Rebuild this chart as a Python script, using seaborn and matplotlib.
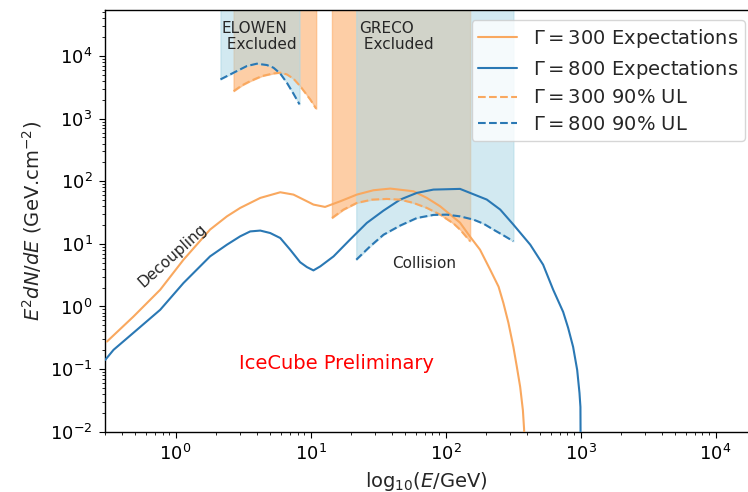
import matplotlib
matplotlib.use("Agg")
import matplotlib.pyplot as plt
from matplotlib.lines import Line2D
import seaborn as sns
import pandas as pd

# --- Expected neutrino spectra (E in GeV, E^2 dN/dE in GeV cm^-2) ---
e_g300 = [0.310, 0.488, 0.769, 1.144, 1.80, 2.40, 3.01, 4.24, 5.96, 7.47, 8.37,
          9.93, 10.5, 12.8, 16.6, 22.0, 29.2, 38.9, 57.8, 72.7, 91.2, 128,
          152, 180, 214, 247, 268, 292, 318, 337, 357, 374, 382, 386]
f_g300 = [0.275, 0.692, 1.85, 5.58, 16.9, 27.5, 37.5, 54.2, 66.7, 61.2, 54.2,
          45.1, 42.4, 38.9, 47.9, 61.2, 71.8, 76.4, 69.2, 54.2, 39.8, 21.8,
          13.0, 8.07, 3.87, 2.07, 1.14, 0.55, 0.226, 0.11, 0.052, 0.022, 0.0107, 0.005]

e_g800 = [0.301, 0.347, 0.517, 0.769, 1.144, 1.80, 2.40, 3.01, 3.57, 4.24, 5.02,
          5.96, 7.06, 8.37, 9.39, 10.5, 11.8, 14.8, 19.6, 26.1, 34.7, 46.1,
          61.3, 81.3, 128, 202, 254, 318, 424, 528, 627, 743, 809, 881, 944,
          982, 998, 1000, 1000]
f_g800 = [0.140, 0.203, 0.424, 0.885, 2.37, 6.31, 9.70, 13.2, 15.8, 16.3, 14.9,
          12.4, 8.07, 5.09, 4.26, 3.77, 4.37, 6.31, 11.7, 21.6, 34.0, 50.9,
          65.2, 73.6, 75.5, 51, 35.3, 20.3, 9.7, 4.65, 1.85, 0.82, 0.456, 0.226,
          0.097, 0.0416, 0.0248, 0.0107, 0.005]

# --- 90% upper limits: ELOWEN (low energy) and GRECO (high energy) ranges ---
e_ul300_elowen = [2.69, 3.10, 3.57, 4.36, 5.31, 5.96, 6.67, 7.47, 8.37, 9.12, 9.93, 11.0]
f_ul300_elowen = [2750, 3400, 3980, 4790, 5280, 5420, 5090, 4340, 3310, 2590, 2030, 1440]
e_ul800_elowen = [2.15, 2.69, 3.37, 4.0, 4.75, 5.31, 5.95, 6.67, 7.47, 8.28]
f_ul800_elowen = [4240, 5420, 6920, 7550, 7180, 6510, 5280, 3750, 2500, 1690]

e_ul300_greco = [14.4, 17.5, 22.0, 28.5, 36.7, 46.1, 57.8, 72.7, 91.2, 115, 128, 152]
f_ul300_greco = [25.9, 35.2, 45.1, 50.9, 52.2, 50.9, 45.1, 37.5, 29.3, 21.0, 16.9, 11.0]
e_ul800_greco = [21.8, 27.6, 34.7, 46.1, 61.3, 81.3, 102, 128, 161, 191, 226, 268, 318]
f_ul800_greco = [5.58, 9.12, 14.0, 19.6, 25.9, 29.0, 29.3, 27.5, 24.4, 21.0, 16.9, 13.7, 11.0]

legend_labels = [r"$\Gamma = 300$ Expectations", r"$\Gamma = 800$ Expectations",
                 r"$\Gamma = 300$ 90% UL", r"$\Gamma = 800$ 90% UL"]

sns.set_style("ticks")
plt.rcParams["font.family"] = ["DejaVu Sans"]
plt.rcParams.update({
    "font.size": 13,
    "axes.edgecolor": "black",
    "axes.linewidth": 1.0,
    "xtick.color": "black", "ytick.color": "black",
    "xtick.major.size": 4, "ytick.major.size": 4,
    "xtick.minor.size": 2.2, "ytick.minor.size": 2.2,
    "xtick.major.pad": 5, "ytick.major.pad": 5,
    "xtick.minor.visible": True, "ytick.minor.visible": True,
})

C300 = "#f9a85f"
C800 = "#2a78b4"
FILL300 = "#fdae6b"
FILL800 = "#add8e6"

YTOP = 5.5e4
fig = plt.figure(figsize=(7.48, 4.92), dpi=100)
ax = fig.add_axes([0.1404, 0.1226, 0.8596, 0.8577])
ax.set_xscale("log")
ax.set_yscale("log")
ax.spines["right"].set_visible(False)

# excluded regions above the upper limits
for e, f, c, a in [(e_ul300_elowen, f_ul300_elowen, FILL300, 0.6),
                   (e_ul300_greco, f_ul300_greco, FILL300, 0.6),
                   (e_ul800_elowen, f_ul800_elowen, FILL800, 0.55),
                   (e_ul800_greco, f_ul800_greco, FILL800, 0.55)]:
    ax.fill_between(e, f, [1e6] * len(e), color=c, alpha=a, linewidth=1.0, zorder=1)

def line(e, f, color, style):
    df = pd.DataFrame({"E": e, "flux": f})
    sns.lineplot(data=df, x="E", y="flux", ax=ax, color=color, linestyle=style,
                 linewidth=1.5, estimator=None, sort=False, legend=False, zorder=3)

line(e_g300, f_g300, C300, "-")
line(e_g800, f_g800, C800, "-")
line(e_ul300_elowen, f_ul300_elowen, C300, "--")
line(e_ul300_greco, f_ul300_greco, C300, "--")
line(e_ul800_elowen, f_ul800_elowen, C800, "--")
line(e_ul800_greco, f_ul800_greco, C800, "--")

ax.set_xlim(0.3, 1.74e4)
ax.set_ylim(1e-2, YTOP)
ax.set_xlabel(r"log$_{10}$($E$/GeV)", fontsize=14)
ax.set_ylabel(r"$E^2dN/dE$ (GeV.cm$^{-2}$)", fontsize=14)
ax.tick_params(labelsize=13)

ax.text(2.2, 3.6e4, "ELOWEN\n Excluded", fontsize=11, ha="left", va="top", linespacing=1.1)
ax.text(22.9, 3.6e4, "GRECO\n Excluded", fontsize=11, ha="left", va="top", linespacing=1.1)
ax.text(0.944, 6.5, "Decoupling", fontsize=11, rotation=42, ha="center", va="center")
ax.text(69.8, 4.94, "Collision", fontsize=11, ha="center", va="center")
ax.text(15.5, 0.124, "IceCube Preliminary", fontsize=14, color="red",
        ha="center", va="center")

handles = [Line2D([], [], color=C300, lw=1.5),
           Line2D([], [], color=C800, lw=1.5),
           Line2D([], [], color=C300, lw=1.5, ls="--"),
           Line2D([], [], color=C800, lw=1.5, ls="--")]
ax.legend(handles, legend_labels, loc="upper right", fontsize=14,
          bbox_to_anchor=(745 / 748, (492 - 20) / 492), bbox_transform=fig.transFigure,
          borderaxespad=0, labelspacing=0.4, borderpad=0.35)

fig.savefig("out.png", dpi=100)
